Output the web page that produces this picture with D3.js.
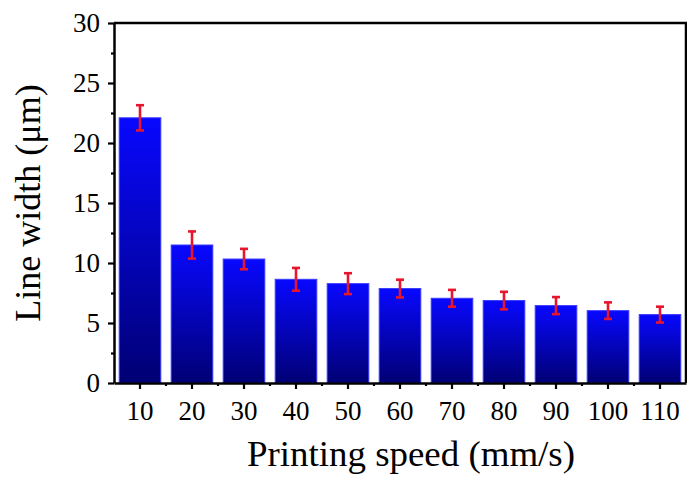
<!DOCTYPE html>
<html lang="en">
<head>
  <meta charset="UTF-8">
  <title>Line width vs printing speed</title>
  <style>
    body { margin: 0; background: #fff; }
    text { font-family: "Liberation Serif", "Times New Roman", serif; fill: #000; }
    .tick-label { font-size: 27px; }
    .title { font-size: 36px; }
  </style>
</head>
<body>
  <script src="https://d3js.org/d3.v7.min.js"></script>
  <script>
    // data
    const speeds = ['10', '20', '30', '40', '50', '60', '70', '80', '90', '100', '110'];
    const widths = [22.1, 11.5, 10.33, 8.64, 8.28, 7.87, 7.06, 6.87, 6.45, 6.03, 5.7];
    const errors = [1.05, 1.13, 0.85, 0.95, 0.87, 0.74, 0.7, 0.73, 0.71, 0.69, 0.66];
    const yTicks = [0, 5, 10, 15, 20, 25, 30];
    const yMinor = [2.5, 7.5, 12.5, 17.5, 22.5, 27.5];

    const W = 687, H = 479;
    const plotL = 114, plotR = 686, plotT = 23, plotB = 383;

    const svg = d3.select('body').append('svg')
      .attr('width', W)
      .attr('height', H);

    const defs = svg.append('defs');
    const grad = defs.append('linearGradient')
      .attr('id', 'barGrad')
      .attr('x1', 0).attr('y1', 0).attr('x2', 0).attr('y2', 1);
    grad.append('stop').attr('offset', '0%').attr('stop-color', '#0808ff');
    grad.append('stop').attr('offset', '100%').attr('stop-color', '#000074');

    const x = d3.scaleBand()
      .domain(speeds)
      .range([plotL, plotR])
      .paddingInner(0.2)
      .paddingOuter(0.1);

    const y = d3.scaleLinear()
      .domain([0, 30])
      .range([plotB, plotT]);

    const data = speeds.map((s, i) => ({ s, v: widths[i], e: errors[i] }));

    // bars
    svg.selectAll('.bar')
      .data(data)
      .enter()
      .append('rect')
      .attr('class', 'bar')
      .attr('x', d => x(d.s))
      .attr('y', d => y(d.v))
      .attr('width', x.bandwidth())
      .attr('height', d => y(0) - y(d.v))
      .attr('fill', 'url(#barGrad)')
      .attr('stroke', '#3a3aff')
      .attr('stroke-width', 1);

    // error bars
    const eb = svg.selectAll('.err')
      .data(data)
      .enter()
      .append('g')
      .attr('class', 'err')
      .attr('stroke', '#e8162c')
      .attr('stroke-width', 2.6);

    const cx = d => x(d.s) + x.bandwidth() / 2;
    eb.append('line')
      .attr('x1', cx).attr('x2', cx)
      .attr('y1', d => y(d.v + d.e)).attr('y2', d => y(d.v - d.e));
    eb.append('line')
      .attr('x1', d => cx(d) - 4).attr('x2', d => cx(d) + 4)
      .attr('y1', d => y(d.v + d.e)).attr('y2', d => y(d.v + d.e));
    eb.append('line')
      .attr('x1', d => cx(d) - 4).attr('x2', d => cx(d) + 4)
      .attr('y1', d => y(d.v - d.e)).attr('y2', d => y(d.v - d.e));

    // y axis
    const yAxis = svg.append('g')
      .attr('transform', `translate(${plotL},0)`)
      .call(d3.axisLeft(y).tickValues(yTicks).tickSize(6).tickSizeOuter(0).tickPadding(8));
    yAxis.select('.domain').attr('stroke-width', 2.5);
    yAxis.selectAll('.tick line').attr('stroke-width', 2.2);
    yAxis.selectAll('.tick text').attr('class', 'tick-label');

    svg.append('g')
      .attr('transform', `translate(${plotL},0)`)
      .call(d3.axisLeft(y).tickValues(yMinor).tickSize(3).tickSizeOuter(0).tickFormat(''))
      .call(g => g.select('.domain').remove())
      .selectAll('.tick line').attr('stroke-width', 2.2);

    // x axis
    const xAxis = svg.append('g')
      .attr('transform', `translate(0,${plotB})`)
      .call(d3.axisBottom(x).tickSize(6).tickSizeOuter(0).tickPadding(12));
    xAxis.select('.domain').attr('stroke-width', 2.5);
    xAxis.selectAll('.tick line').attr('stroke-width', 2.2);
    xAxis.selectAll('.tick text').attr('class', 'tick-label');

    // minor x ticks at band boundaries
    const bounds = speeds.slice(1).map(s => x(s) - x.step() * x.paddingInner() / 2);
    svg.append('g')
      .selectAll('line')
      .data(bounds)
      .enter()
      .append('line')
      .attr('x1', d => d).attr('x2', d => d)
      .attr('y1', plotB).attr('y2', plotB + 3)
      .attr('stroke', '#000')
      .attr('stroke-width', 2.2);

    // frame top / right
    svg.append('path')
      .attr('d', `M${plotL},${plotT}H${plotR}V${plotB}`)
      .attr('fill', 'none')
      .attr('stroke', '#000')
      .attr('stroke-width', 2.5);

    // titles
    svg.append('text')
      .attr('class', 'title')
      .attr('x', 411)
      .attr('y', 466)
      .attr('text-anchor', 'middle')
      .attr('textLength', 328)
      .attr('lengthAdjust', 'spacingAndGlyphs')
      .text('Printing speed (mm/s)');

    svg.append('text')
      .attr('class', 'title')
      .attr('transform', `translate(40,${(plotT + plotB) / 2}) rotate(-90)`)
      .attr('text-anchor', 'middle')
      .text('Line width (\u03bcm)');
  </script>
</body>
</html>
